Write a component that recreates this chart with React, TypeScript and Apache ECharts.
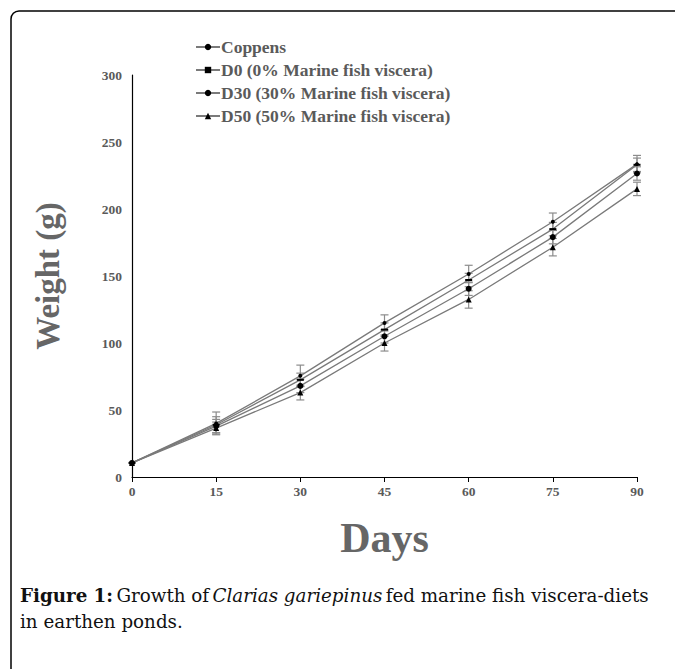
import React, { useEffect, useRef } from "react";
import * as echarts from "echarts";

const days = [0, 15, 30, 45, 60, 75, 90];
const seriesNames = [
  "Coppens",
  "D0 (0% Marine fish viscera)",
  "D30 (30% Marine fish viscera)",
  "D50 (50% Marine fish viscera)",
];
const coppens = [10.5, 40, 75.5, 115, 151.5, 190.5, 233.5];
const d0 = [10.5, 39, 72.5, 110, 147, 185, 233];
const d30 = [10.5, 38, 68, 105, 140.5, 179, 226.5];
const d50 = [10.5, 36.5, 63, 100, 132.5, 171.5, 215];
const errCoppens = [0, 8.5, 8, 6, 6.5, 6.5, 6.5];
const errD0 = [0, 6, 5, 5, 5, 5, 5];
const errD30 = [0, 5, 5, 5, 5, 5, 5];
const errD50 = [0, 4.5, 5.5, 6, 6.5, 6.5, 5];
const yTicks = [0, 50, 100, 150, 200, 250, 300];
const xTicks = [0, 15, 30, 45, 60, 75, 90];

const allValues = [coppens, d0, d30, d50];
const allErrors = [errCoppens, errD0, errD30, errD50];
const symbols = ["circle", "rect", "circle", "triangle"];
const symbolSizes: any[] = [4, [7, 2], 6, 6];

export default function App() {
  const ref = useRef<HTMLDivElement>(null);
  useEffect(() => {
    if (!ref.current) return;
    const chart = echarts.init(ref.current, null, { renderer: "svg" });
    const errData: number[][] = [];
    allValues.forEach((vals, si) => {
      vals.forEach((v, i) => {
        if (allErrors[si][i] > 0) errData.push([days[i], v - allErrors[si][i], v + allErrors[si][i]]);
      });
    });
    const lineSeries = allValues.map((vals, si) => ({
      name: seriesNames[si],
      type: "line",
      data: vals.map((v, i) => [days[i], v]),
      symbol: symbols[si],
      symbolSize: symbolSizes[si],
      showAllSymbol: true,
      lineStyle: { color: "#7a7a7a", width: 1.3 },
      itemStyle: { color: "#000" },
      z: 3,
    }));
    const frameStyle = { stroke: "#000", lineWidth: 1.5, fill: "none" };
    chart.setOption({
      animation: false,
      backgroundColor: "#fff",
      textStyle: { fontFamily: "Liberation Serif" },
      grid: { left: 132, right: 38, top: 75, bottom: 192 },
      legend: {
        orient: "vertical",
        left: 190,
        top: 33,
        itemGap: 5,
        itemWidth: 24,
        itemHeight: 8,
        data: seriesNames,
        textStyle: {
          fontFamily: "Liberation Serif",
          fontWeight: "bold",
          fontSize: 17.5,
          color: "#5a5a5a",
          padding: [0, 0, 0, -4],
        },
      },
      xAxis: {
        type: "value",
        min: 0,
        max: 90,
        interval: 15,
        name: "Days",
        nameLocation: "middle",
        nameGap: 40,
        nameTextStyle: { fontFamily: "Liberation Serif", fontWeight: "bold", fontSize: 42, color: "#666" },
        axisLine: { lineStyle: { color: "#000", width: 1.2 } },
        axisTick: { show: true, length: 5, lineStyle: { color: "#000" } },
        splitLine: { show: false },
        axisLabel: {
          fontFamily: "Liberation Serif",
          fontWeight: "bold",
          fontSize: 13.5,
          color: "#5a5a5a",
          margin: 7,
          customValues: xTicks,
        },
      },
      yAxis: {
        type: "value",
        min: 0,
        max: 300,
        interval: 50,
        name: "Weight (g)",
        nameLocation: "middle",
        nameGap: 68,
        nameTextStyle: { fontFamily: "Liberation Serif", fontWeight: "bold", fontSize: 33, color: "#666" },
        axisLine: { show: true, lineStyle: { color: "#000", width: 1.2 } },
        axisTick: { show: false },
        splitLine: { show: false },
        axisLabel: {
          fontFamily: "Liberation Serif",
          fontWeight: "bold",
          fontSize: 13.5,
          color: "#5a5a5a",
          margin: 10,
          customValues: yTicks,
        },
      },
      series: [
        {
          type: "custom",
          z: 1,
          silent: true,
          data: errData,
          encode: { x: 0, y: [1, 2] },
          renderItem: (params: any, api: any) => {
            const x = api.value(0);
            const lo = api.coord([x, api.value(1)]);
            const hi = api.coord([x, api.value(2)]);
            const w = 4;
            const style = { stroke: "#8c8c8c", lineWidth: 1.2 };
            return {
              type: "group",
              children: [
                { type: "line", shape: { x1: lo[0], y1: lo[1], x2: hi[0], y2: hi[1] }, style },
                { type: "line", shape: { x1: lo[0] - w, y1: lo[1], x2: lo[0] + w, y2: lo[1] }, style },
                { type: "line", shape: { x1: hi[0] - w, y1: hi[1], x2: hi[0] + w, y2: hi[1] }, style },
              ],
            };
          },
        },
        ...lineSeries,
      ],
      graphic: [
        {
          type: "line",
          silent: true,
          shape: { x1: 11, y1: 19, x2: 11, y2: 700 },
          style: frameStyle,
        },
        {
          type: "line",
          silent: true,
          shape: { x1: 19, y1: 11, x2: 700, y2: 11 },
          style: frameStyle,
        },
        {
          type: "arc",
          silent: true,
          shape: { cx: 19, cy: 19, r: 8, startAngle: Math.PI, endAngle: Math.PI * 1.5 },
          style: frameStyle,
        },
        {
          type: "text",
          x: 20,
          y: 582,
          style: {
            text: "{b|Figure 1:} {n|Growth of} {i|Clarias gariepinus} {n|fed marine fish viscera-diets}\n{n|in earthen ponds.}",
            lineHeight: 26,
            rich: {
              b: { fontFamily: "DejaVu Serif", fontWeight: "bold", fontSize: 18.3, fill: "#111", lineHeight: 26 },
              n: { fontFamily: "DejaVu Serif", fontSize: 18.3, fill: "#111", lineHeight: 26 },
              i: { fontFamily: "DejaVu Serif", fontStyle: "italic", fontSize: 18.3, fill: "#111", lineHeight: 26 },
            },
          },
        },
      ],
    });
    return () => chart.dispose();
  }, []);
  return (
    <div
      ref={ref}
      style={{ position: "absolute", left: 0, top: 0, width: 675, height: 669, overflow: "hidden" }}
    />
  );
}
